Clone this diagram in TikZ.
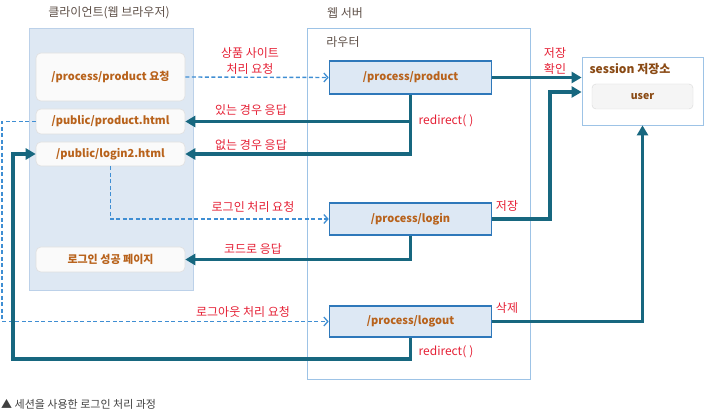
\documentclass[tikz,border=0pt]{standalone}
\usepackage{fontspec}
\setmainfont{Noto Sans CJK KR}
\usetikzlibrary{arrows.meta}
\definecolor{arrowc}{HTML}{17677F}
\definecolor{dashc}{HTML}{3F8ED3}
\definecolor{redl}{HTML}{E52035}
\definecolor{nodet}{HTML}{B8621B}
\definecolor{panelf}{HTML}{DEE8F3}
\definecolor{panelb}{HTML}{BCD1E9}
\definecolor{srvb}{HTML}{9DC3E6}
\definecolor{snodef}{HTML}{DDE8F4}
\definecolor{snodeb}{HTML}{2E78BA}
\definecolor{titlec}{HTML}{5E5048}
\definecolor{sessc}{HTML}{8A4A14}
\tikzset{
  panel/.style={draw=panelb, fill=panelf, line width=0.8pt},
  cnode/.style={draw=black!12, fill=black!2, rounded corners=5pt, line width=0.6pt,
    minimum width=149pt, font=\bfseries\fontsize{11}{13}\selectfont, text=nodet, inner sep=0pt},
  snode/.style={draw=snodeb, fill=snodef, line width=1.6pt, minimum width=162pt,
    font=\bfseries\fontsize{11}{13}\selectfont, text=nodet, inner sep=0pt},
  thickarr/.style={draw=arrowc, line width=3.6pt, line join=miter,
    -{Triangle[length=10pt,width=11pt]}},
  dasharr/.style={draw=dashc, line width=1.4pt, dash pattern=on 4pt off 2.5pt,
    -{Straight Barb[length=4pt,width=9pt,line width=1.3pt]}},
  lbl/.style={text=redl, font=\fontsize{12}{16}\selectfont, inner sep=0pt, align=center},
  ttl/.style={text=titlec, font=\fontsize{12}{14}\selectfont, inner sep=0pt},
}
\begin{document}
\begin{tikzpicture}[x=1pt,y=-1pt]
\useasboundingbox (0,0) rectangle (710,411);
% panels
\draw[panel] (29,28) rectangle (193,290);
\draw[draw=srvb, line width=0.8pt] (307,28) rectangle (530,379);
\node[ttl] (tclient) at (109,13) {클라이언트(웹 브라우저)};
\node[ttl] (tserver) at (345,13) {웹 서버};
\node[ttl] (trouter) at (343,42) {라우터};
% session store
\node[draw=srvb, fill=white, line width=0.8pt, minimum width=121pt, minimum height=68pt, inner sep=0pt] (sess) at (642.5,91) {};
\node[text=sessc, font=\bfseries\fontsize{12}{14}\selectfont, inner sep=0pt] (sesst) at (630,69) {session 저장소};
\node[draw=black!15, fill=black!4, rounded corners=4pt, minimum width=101pt, minimum height=25pt,
  text=sessc, font=\bfseries\fontsize{10.5}{12}\selectfont, inner sep=0pt] (user) at (642.5,96.5) {user};
% client nodes
\node[cnode, minimum height=48pt] (n1) at (110.5,77) {/process/product 요청};
\node[cnode, minimum height=25pt] (n2) at (110.5,121.5) {/public/product.html};
\node[cnode, minimum height=24pt] (n3) at (110.5,154) {/public/login2.html};
\node[cnode, minimum height=25pt] (n4) at (110.5,259.5) {로그인 성공 페이지};
% server nodes
\node[snode, minimum height=33pt] (s1) at (410.5,77.5) {/process/product};
\node[snode, minimum height=32pt] (s2) at (410.5,219) {/process/login};
\node[snode, minimum height=31pt] (s3) at (410.5,321.5) {/process/logout};
% coordinates
\coordinate (c1) at (550,92);
\coordinate (d1) at (2,321.5);
\coordinate (r1) at (13,359);
% connectors
\draw[dasharr] (n1.east) -- (s1.west);
\draw[thickarr] (s1.east) -- (s1.east -| sess.west);
\draw[thickarr] (s1.south) |- (n3.east);
\draw[thickarr] (s1.south |- n2.east) -- (n2.east);
\draw[dasharr] (n3.south) |- (s2.west);
\draw[thickarr] (s2.south) |- (n4.east);
\draw[thickarr] (s2.east) -| (c1) -- (c1 -| sess.west);
\draw[dasharr] (n2.west) -| (d1) -- (s3.west);
\draw[thickarr] (s3.east) -| (sess.south);
\draw[thickarr] (s3.south) |- (r1) |- (n3.west);
% labels
\node[lbl] (l1) at (250,61) {상품 사이트\\처리 요청};
\node[lbl] (l2) at (555,61) {저장\\확인};
\node[lbl] (l3) at (251,110) {있는 경우 응답};
\node[lbl] (l4) at (251,145) {없는 경우 응답};
\node[lbl] (l5) at (446,121) {redirect(\hspace{3pt})};
\node[lbl] (l6) at (253,207) {로그인 처리 요청};
\node[lbl] (l7) at (253,249) {코드로 응답};
\node[lbl] (l8) at (507,206) {저장};
\node[lbl] (l9) at (243,312) {로그아웃 처리 요청};
\node[lbl] (l10) at (507,308) {삭제};
\node[lbl] (l11) at (446,352) {redirect(\hspace{3pt})};
% caption
\node[anchor=west, text=black!75, font=\fontsize{11}{13}\selectfont, inner sep=0pt] (cap) at (1,404) {▲ 세션을 사용한 로그인 처리 과정};
\end{tikzpicture}
\end{document}
